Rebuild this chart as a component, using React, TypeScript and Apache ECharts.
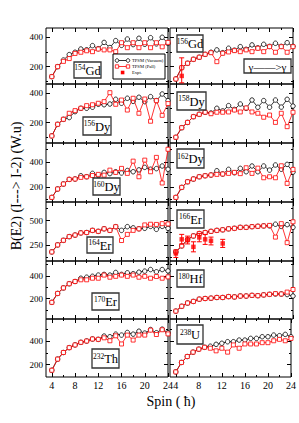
import React, { useEffect, useRef } from 'react';
import * as echarts from 'echarts';

const spins = [4, 5, 6, 7, 8, 9, 10, 11, 12, 13, 14, 15, 16, 17, 18, 19, 20, 21, 22, 23, 24];
const xMajorTicks = [4, 8, 12, 16, 20, 24];
const xMinorTicks = [6, 10, 14, 18, 22];

const gd154Vacuum = [132, 200, 245, 282, 298, 320, 315, 343, 322, 365, 330, 377, 345, 388, 350, 393, 352, 397, 355, 400, 358];
const gd154Pall = [132, 200, 236, 255, 290, 298, 308, 302, 320, 314, 314, 302, 363, 329, 363, 329, 363, 329, 363, 335, 365];

const gd156Vacuum = [116, 193, 223, 250, 264, 284, 298, 314, 295, 325, 312, 336, 318, 348, 328, 352, 338, 359, 338, 363, 338];
const gd156Pall = [116, 193, 223, 250, 264, 284, 295, 234, 291, 300, 309, 302, 314, 302, 325, 302, 336, 298, 336, 298, 336];
const gd156ExptSpin = [5];
const gd156ExptValue = [137];
const gd156ExptLow = [90];
const gd156ExptHigh = [260];

const dy156Vacuum = [110, 189, 223, 235, 275, 298, 298, 305, 325, 322, 327, 359, 332, 366, 345, 373, 343, 377, 350, 395, 350];
const dy156Pall = [110, 189, 223, 264, 282, 298, 316, 322, 332, 343, 404, 325, 354, 286, 366, 264, 361, 210, 350, 250, 330];

const dy158Vacuum = [101, 166, 202, 241, 257, 271, 266, 298, 280, 316, 290, 327, 298, 354, 305, 350, 305, 354, 306, 359, 313];
const dy158Pall = [101, 166, 202, 241, 257, 271, 261, 271, 271, 273, 286, 273, 300, 273, 264, 237, 252, 202, 264, 173, 271];

const dy160Vacuum = [115, 182, 222, 259, 262, 288, 280, 307, 290, 315, 305, 320, 310, 330, 320, 335, 355, 340, 345, 366, 340];
const dy160Pall = [115, 182, 222, 259, 262, 275, 280, 290, 299, 293, 333, 315, 347, 307, 405, 280, 413, 320, 435, 230, 500];

const dy162Vacuum = [115, 195, 240, 262, 280, 288, 294, 328, 302, 339, 312, 347, 320, 366, 320, 366, 333, 374, 340, 379, 317];
const dy162Pall = [115, 195, 240, 262, 280, 288, 294, 299, 302, 307, 315, 305, 352, 307, 349, 272, 280, 272, 368, 227, 339];

const er164Vacuum = [178, 250, 297, 335, 351, 373, 377, 399, 389, 415, 399, 437, 399, 437, 425, 415, 420, 440, 410, 440, 420];
const er164Pall = [178, 250, 297, 335, 351, 373, 377, 399, 389, 415, 399, 437, 295, 358, 399, 415, 455, 462, 460, 468, 465];

const er166Vacuum = [178, 240, 304, 342, 367, 377, 389, 399, 405, 415, 420, 430, 430, 437, 441, 445, 445, 462, 440, 458, 430];
const er166Pall = [178, 240, 304, 342, 367, 377, 389, 399, 405, 415, 420, 430, 430, 437, 441, 445, 450, 330, 468, 273, 487];
const er166ExptSpin = [4, 5, 6, 7, 8, 9, 10, 12];
const er166ExptValue = [162, 307, 300, 230, 327, 307, 292, 265];
const er166ExptLow = [121, 258, 260, 179, 282, 255, 250, 224];
const er166ExptHigh = [197, 358, 340, 282, 368, 358, 330, 307];

const er170Vacuum = [166, 245, 294, 331, 351, 380, 389, 397, 408, 414, 408, 431, 414, 428, 420, 434, 443, 457, 437, 457, 445];
const er170Pall = [166, 245, 294, 331, 351, 366, 366, 380, 380, 408, 389, 397, 408, 397, 408, 389, 397, 380, 395, 380, 392];

const hf180Vacuum = [88, 131, 160, 174, 194, 200, 203, 209, 209, 217, 214, 222, 222, 228, 225, 232, 237, 240, 240, 235, 222];
const hf180Pall = [88, 131, 160, 174, 194, 200, 203, 209, 209, 217, 214, 222, 222, 228, 225, 232, 237, 243, 240, 257, 280];

const th232Vacuum = [153, 247, 303, 344, 367, 389, 400, 417, 414, 442, 436, 458, 450, 472, 458, 483, 467, 497, 470, 500, 470];
const th232Pall = [153, 247, 303, 344, 367, 389, 400, 417, 414, 427, 402, 444, 375, 450, 408, 450, 450, 492, 455, 495, 460];

const u238Vacuum = [139, 219, 269, 306, 331, 347, 356, 372, 381, 394, 394, 408, 408, 422, 422, 436, 436, 450, 445, 456, 436];
const u238Pall = [139, 219, 269, 306, 331, 347, 339, 317, 339, 306, 367, 339, 375, 375, 375, 386, 386, 402, 414, 402, 422];

// y-axis scale per row: min, max, labelled ticks, minor ticks
const rowMin = [82, 62, 78, 85, 18, 96];
const rowMax = [463, 463, 550, 690, 533, 586];
const rowMajor = [[200, 400], [200, 400], [200, 400], [250, 500], [200, 400], [200, 400]];
const rowMinor = [[100, 300], [100, 300], [100, 300, 500], [125, 375, 625], [100, 300, 500], [300, 500]];

const legendNames = ['TPSM (Vacuum)', 'TPSM (Pall)', 'Expt.'];

type Panel = {
  mass: string;
  el: string;
  vac: number[];
  pall: number[];
  expSpin?: number[];
  expVal?: number[];
  expLow?: number[];
  expHigh?: number[];
};

const panels: Panel[] = [
  { mass: '154', el: 'Gd', vac: gd154Vacuum, pall: gd154Pall },
  { mass: '156', el: 'Gd', vac: gd156Vacuum, pall: gd156Pall, expSpin: gd156ExptSpin, expVal: gd156ExptValue, expLow: gd156ExptLow, expHigh: gd156ExptHigh },
  { mass: '156', el: 'Dy', vac: dy156Vacuum, pall: dy156Pall },
  { mass: '158', el: 'Dy', vac: dy158Vacuum, pall: dy158Pall },
  { mass: '160', el: 'Dy', vac: dy160Vacuum, pall: dy160Pall },
  { mass: '162', el: 'Dy', vac: dy162Vacuum, pall: dy162Pall },
  { mass: '164', el: 'Er', vac: er164Vacuum, pall: er164Pall },
  { mass: '166', el: 'Er', vac: er166Vacuum, pall: er166Pall, expSpin: er166ExptSpin, expVal: er166ExptValue, expLow: er166ExptLow, expHigh: er166ExptHigh },
  { mass: '170', el: 'Er', vac: er170Vacuum, pall: er170Pall },
  { mass: '180', el: 'Hf', vac: hf180Vacuum, pall: hf180Pall },
  { mass: '232', el: 'Th', vac: th232Vacuum, pall: th232Pall },
  { mass: '238', el: 'U', vac: u238Vacuum, pall: u238Pall },
];

// layout
const rowTop = [28, 84, 143, 202, 261, 319];
const rowHeight = [56, 59, 59, 59, 58, 58];
const colLeft = [46, 170];
const colWidth = [122, 123];
const labelBox = [
  [74, 62, 27, 16], [177, 35, 26, 17],
  [83, 117, 28, 18], [177, 92, 29, 18],
  [93, 178, 27, 17], [177, 149, 27, 19],
  [87, 237, 26, 16], [177, 210, 27, 18],
  [92, 293, 27, 17], [177, 270, 27, 17],
  [92, 349, 27, 19], [177, 325, 26, 19],
];

const FONT = "'Liberation Serif', 'Times New Roman', serif";
const RED = '#ff0000';

function buildOption() {
  const grid: any[] = [];
  const xAxis: any[] = [];
  const yAxis: any[] = [];
  const series: any[] = [];
  const graphic: any[] = [];

  panels.forEach((p, i) => {
    const r = Math.floor(i / 2);
    const c = i % 2;
    grid.push({
      left: colLeft[c], top: rowTop[r], width: colWidth[c], height: rowHeight[r],
      show: true, borderColor: '#000', borderWidth: 1, backgroundColor: 'transparent', containLabel: false,
    });
    const xBase = {
      gridIndex: i, type: 'value', min: 3, max: 24,
      splitLine: { show: false }, axisLine: { show: false, onZero: false },
    };
    const tick = (vals: number[], len: number) => ({
      show: true, inside: true, length: len, customValues: vals, lineStyle: { color: '#000', width: 1 },
    });
    xAxis.push({
      ...xBase, position: 'bottom', axisTick: tick(xMajorTicks, 4),
      axisLabel: { show: r === 5, customValues: xMajorTicks, fontSize: 10, fontFamily: FONT, color: '#000', margin: 3 },
    });
    xAxis.push({ ...xBase, position: 'bottom', axisTick: tick(xMinorTicks, 2), axisLabel: { show: false } });
    xAxis.push({ ...xBase, position: 'top', axisTick: tick(xMajorTicks, 4), axisLabel: { show: false } });
    xAxis.push({ ...xBase, position: 'top', axisTick: tick(xMinorTicks, 2), axisLabel: { show: false } });

    const yBase = {
      gridIndex: i, type: 'value', min: rowMin[r], max: rowMax[r],
      splitLine: { show: false }, axisLine: { show: false, onZero: false },
    };
    yAxis.push({
      ...yBase, position: 'left', axisTick: tick(rowMajor[r], 4),
      axisLabel: { show: c === 0, customValues: rowMajor[r], fontSize: 9, fontFamily: FONT, color: '#000', margin: 3 },
    });
    yAxis.push({ ...yBase, position: 'left', axisTick: tick(rowMinor[r], 2), axisLabel: { show: false } });
    yAxis.push({ ...yBase, position: 'right', axisTick: tick(rowMajor[r], 4), axisLabel: { show: false } });
    yAxis.push({ ...yBase, position: 'right', axisTick: tick(rowMinor[r], 2), axisLabel: { show: false } });

    series.push({
      type: 'line', name: legendNames[0], xAxisIndex: 4 * i, yAxisIndex: 4 * i,
      data: spins.map((s, k) => [s, p.vac[k]]),
      symbol: 'circle', symbolSize: 4.5,
      lineStyle: { color: '#000', width: 0.8 },
      itemStyle: { color: '#fff', borderColor: '#000', borderWidth: 0.8 },
      z: 2,
    });
    series.push({
      type: 'line', name: legendNames[1], xAxisIndex: 4 * i, yAxisIndex: 4 * i,
      data: spins.map((s, k) => [s, p.pall[k]]),
      symbol: 'rect', symbolSize: 4,
      lineStyle: { color: RED, width: 0.8 },
      itemStyle: { color: '#fff', borderColor: RED, borderWidth: 0.8 },
      z: 3,
    });
    if (p.expSpin) {
      const expData = p.expSpin.map((s, k) => [s, p.expVal![k], p.expLow![k], p.expHigh![k]]);
      series.push({
        type: 'custom', name: 'err', xAxisIndex: 4 * i, yAxisIndex: 4 * i, z: 4,
        data: expData,
        renderItem: (params: any, api: any) => {
          const x = api.value(0);
          const lo = api.coord([x, api.value(2)]);
          const hi = api.coord([x, api.value(3)]);
          const w = 2.5;
          const st = { stroke: RED, lineWidth: 1 };
          return {
            type: 'group',
            children: [
              { type: 'line', shape: { x1: lo[0], y1: lo[1], x2: hi[0], y2: hi[1] }, style: st },
              { type: 'line', shape: { x1: lo[0] - w, y1: lo[1], x2: lo[0] + w, y2: lo[1] }, style: st },
              { type: 'line', shape: { x1: hi[0] - w, y1: hi[1], x2: hi[0] + w, y2: hi[1] }, style: st },
            ],
          };
        },
      });
      series.push({
        type: 'scatter', name: legendNames[2], xAxisIndex: 4 * i, yAxisIndex: 4 * i, z: 5,
        data: expData.map((d) => [d[0], d[1]]),
        symbol: 'rect', symbolSize: 4.5,
        itemStyle: { color: RED },
      });
    }

    const b = labelBox[i];
    graphic.push({
      type: 'rect', z: 20, shape: { x: b[0], y: b[1], width: b[2], height: b[3] },
      style: { fill: '#fff', stroke: '#333', lineWidth: 1.3 },
    });
    graphic.push({
      type: 'text', z: 21, x: b[0] + b[2] / 2, y: b[1] + b[3] / 2 + 0.5,
      style: {
        text: `{a|${p.mass}}{b|${p.el}}`,
        align: 'center', verticalAlign: 'middle',
        rich: {
          a: { fontSize: 7.5, fontFamily: FONT, fill: '#000', verticalAlign: 'top', lineHeight: 14 },
          b: { fontSize: 12.5, fontFamily: FONT, fill: '#000', lineHeight: 14 },
        },
      },
    });
  });

  // legend box in first panel
  const lx = 113, ly = 54;
  graphic.push({ type: 'rect', z: 20, shape: { x: lx, y: ly, width: 52, height: 25 }, style: { fill: '#fff', stroke: '#000', lineWidth: 1 } });
  const rowsY = [ly + 6.5, ly + 12.5, ly + 18.5];
  graphic.push({ type: 'line', z: 21, shape: { x1: lx + 4, y1: rowsY[0], x2: lx + 15, y2: rowsY[0] }, style: { stroke: '#000', lineWidth: 0.8 } });
  graphic.push({ type: 'circle', z: 22, shape: { cx: lx + 4, cy: rowsY[0], r: 1.8 }, style: { fill: '#fff', stroke: '#000', lineWidth: 0.8 } });
  graphic.push({ type: 'circle', z: 22, shape: { cx: lx + 15, cy: rowsY[0], r: 1.8 }, style: { fill: '#fff', stroke: '#000', lineWidth: 0.8 } });
  graphic.push({ type: 'line', z: 21, shape: { x1: lx + 4, y1: rowsY[1], x2: lx + 15, y2: rowsY[1] }, style: { stroke: RED, lineWidth: 0.8 } });
  graphic.push({ type: 'rect', z: 22, shape: { x: lx + 2.3, y: rowsY[1] - 1.7, width: 3.4, height: 3.4 }, style: { fill: '#fff', stroke: RED, lineWidth: 0.8 } });
  graphic.push({ type: 'rect', z: 22, shape: { x: lx + 13.3, y: rowsY[1] - 1.7, width: 3.4, height: 3.4 }, style: { fill: '#fff', stroke: RED, lineWidth: 0.8 } });
  graphic.push({ type: 'rect', z: 22, shape: { x: lx + 7.8, y: rowsY[2] - 1.8, width: 3.6, height: 3.6 }, style: { fill: RED } });
  legendNames.forEach((n, k) => {
    graphic.push({
      type: 'text', z: 22, x: lx + 19, y: rowsY[k],
      style: { text: n, fontSize: 4.6, fontFamily: FONT, fill: '#000', align: 'left', verticalAlign: 'middle' },
    });
  });

  // gamma -> gamma box
  graphic.push({ type: 'rect', z: 20, shape: { x: 244, y: 59, width: 47, height: 14 }, style: { fill: '#fff', stroke: '#333', lineWidth: 1.3 } });
  graphic.push({
    type: 'text', z: 21, x: 267.5, y: 66.5,
    style: { text: 'γ——>γ', fontSize: 11, fontFamily: FONT, fill: '#000', align: 'center', verticalAlign: 'middle' },
  });

  // axis titles
  graphic.push({
    type: 'text', z: 21, x: 16, y: 186, rotation: Math.PI / 2,
    style: { text: 'B(E2) (I---> I-2) (W.u)', fontSize: 14, fontFamily: FONT, fill: '#000', align: 'center', verticalAlign: 'middle' },
  });
  graphic.push({
    type: 'text', z: 21, x: 171, y: 401,
    style: { text: 'Spin ( ħ)', fontSize: 14, fontFamily: FONT, fill: '#000', align: 'center', verticalAlign: 'middle' },
  });

  return {
    animation: false,
    backgroundColor: '#fff',
    grid, xAxis, yAxis, series, graphic,
  };
}

export default function App() {
  const ref = useRef<HTMLDivElement>(null);
  useEffect(() => {
    if (!ref.current) return;
    const chart = echarts.init(ref.current, null, { renderer: 'svg' });
    chart.setOption(buildOption() as any);
    return () => chart.dispose();
  }, []);
  return <div ref={ref} style={{ position: 'fixed', left: 0, top: 0, width: 299, height: 423 }} />;
}
